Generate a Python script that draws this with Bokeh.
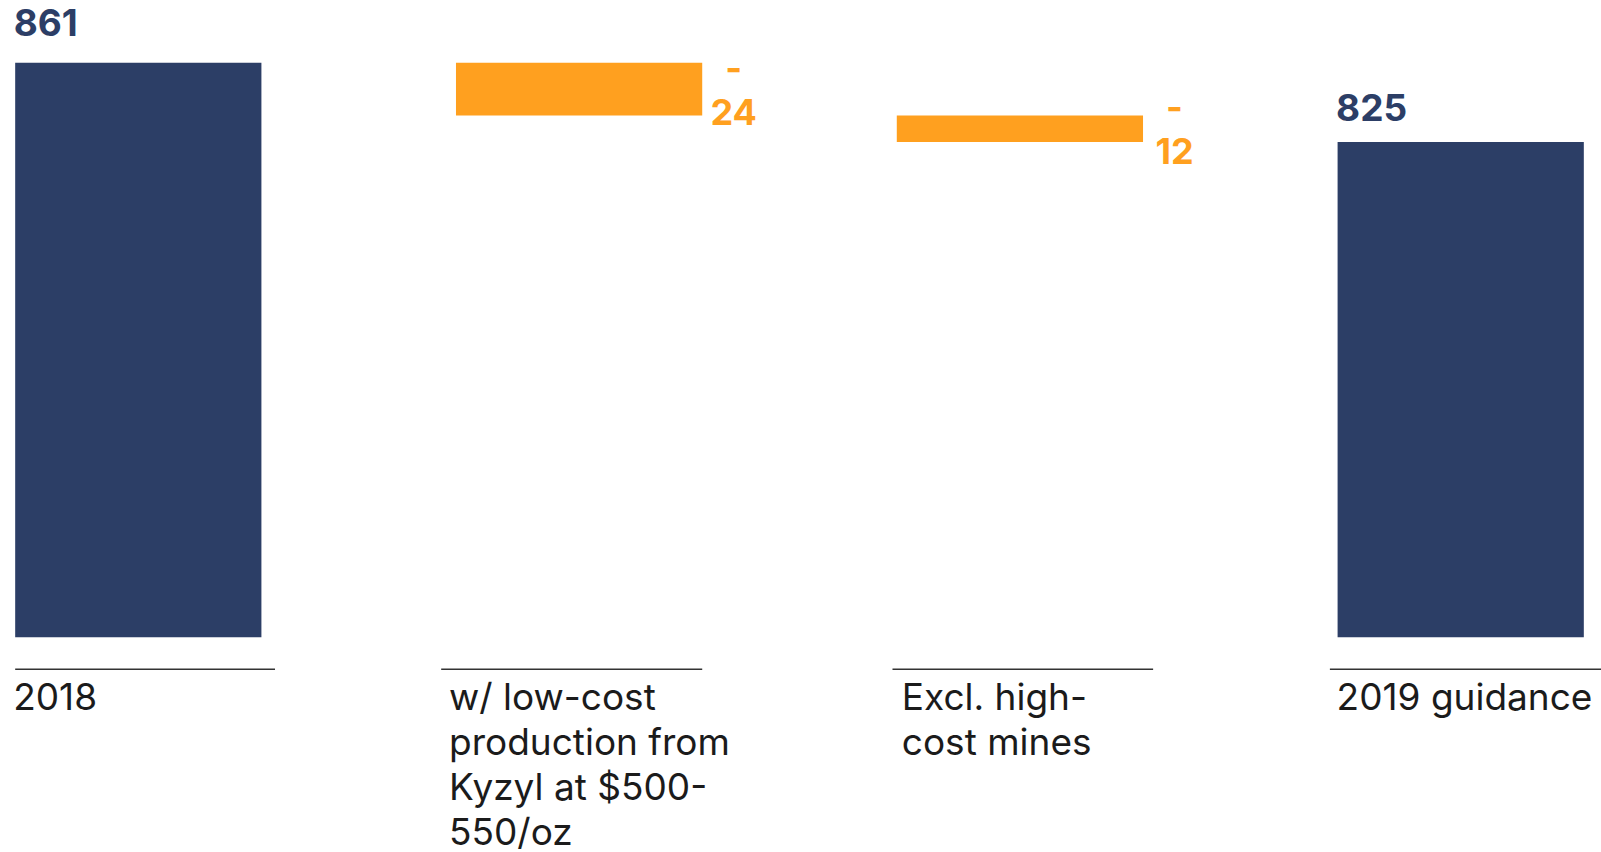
from bokeh.plotting import figure
from bokeh.models import Range1d, ColumnDataSource
from bokeh.core.properties import value
from bokeh.embed import file_html
from bokeh.resources import INLINE

# ---- data ----
categories = [
    "2018",
    "w/ low-cost\nproduction from\nKyzyl at $500-\n550/oz",
    "Excl. high-\ncost mines",
    "2019 guidance",
]
values = [861, -24, -12, 825]
kinds = ["total", "delta", "delta", "total"]

# ---- style / layout ----
Y_BASE = 600
NAVY = "#2C3E66"
ORANGE = "#FFA01F"
TEXT = "#1b1b1b"
FONT = "Inter"
BASE_FIX = 14      # empirical shift of the alphabetic baseline
LINE_PX = 45       # category label line spacing
# per-category pixel paddings of the separator line (left, right) and label nudge
SEP_PAD = [(0, 13.6), (-14.8, 0), (-4.3, 10.1), (-7.7, 20)]
LABEL_NUDGE = [-2, -7, 5, -1]
TOTAL_GAP = [26.5, 20.5]   # pixel gap between total bar top and its label

W, H = 1601, 852
x_start, x_end = -0.3126, 3.3194
y_start, y_end = 502.18, 889.31
px_x = W / (x_end - x_start)
px_y = H / (y_end - y_start)
bar_w = 0.5586

xs = list(range(len(categories)))
bottoms, tops = [], []
running = 0
for v, k in zip(values, kinds):
    if k == "total":
        bottoms.append(Y_BASE)
        tops.append(v)
        running = v
    else:
        new = running + v
        bottoms.append(min(running, new))
        tops.append(max(running, new))
        running = new
colors = [NAVY if k == "total" else ORANGE for k in kinds]

p = figure(
    width=W, height=H,
    x_range=Range1d(x_start, x_end), y_range=Range1d(y_start, y_end),
    output_backend="svg", toolbar_location=None,
    x_axis_location=None, y_axis_location=None,
    min_border=0, outline_line_color=None,
    background_fill_color="white", border_fill_color="white",
)
p.grid.visible = False

bars = ColumnDataSource(dict(x=xs, bottom=bottoms, top=tops, color=colors))
p.vbar(x="x", bottom="bottom", top="top", width=bar_w, fill_color="color",
       line_color=None, source=bars)

# separator lines under each category
sep_y = Y_BASE - 32 / px_y
p.segment(
    x0=[x - bar_w / 2 + pad[0] / px_x for x, pad in zip(xs, SEP_PAD)],
    x1=[x + bar_w / 2 + pad[1] / px_x for x, pad in zip(xs, SEP_PAD)],
    y0=[sep_y] * len(xs), y1=[sep_y] * len(xs),
    line_color="#333333", line_width=1.6,
)

# category labels (one text per line)
lx, ly, lt, lo, lxo = [], [], [], [], []
for x, cat, nudge in zip(xs, categories, LABEL_NUDGE):
    for k, line in enumerate(cat.split("\n")):
        lx.append(x - bar_w / 2)
        ly.append(Y_BASE)
        lt.append(line)
        lo.append(73.3 - BASE_FIX + k * LINE_PX)
        lxo.append(nudge)
p.text(
    x=lx, y=ly, text=lt, x_offset=lxo, y_offset=lo,
    text_align="left", text_baseline="alphabetic",
    text_font=value(FONT), text_font_size="37px", text_color=TEXT,
)

# total labels
tot_idx = [i for i, k in enumerate(kinds) if k == "total"]
p.text(
    x=[xs[i] - bar_w / 2 for i in tot_idx], y=[tops[i] for i in tot_idx],
    text=[str(values[i]) for i in tot_idx],
    x_offset=-1.5, y_offset=[-g - BASE_FIX for g in TOTAL_GAP],
    text_align="left", text_baseline="alphabetic",
    text_font=value(FONT), text_font_size="37px", text_font_style="bold",
    text_color=NAVY,
)

# delta labels: sign on one line, magnitude below
d_idx = [i for i, k in enumerate(kinds) if k == "delta"]
dx, dy, dt, do = [], [], [], []
for i in d_idx:
    mid = (bottoms[i] + tops[i]) / 2
    for line, off in (("-", -7.5), (str(abs(values[i])), 36.5)):
        dx.append(xs[i] + bar_w / 2)
        dy.append(mid)
        dt.append(line)
        do.append(off - BASE_FIX)
p.text(
    x=dx, y=dy, text=dt, x_offset=31.5, y_offset=do,
    text_align="center", text_baseline="alphabetic",
    text_font=value(FONT), text_font_size="36px", text_font_style="bold",
    text_color=ORANGE,
)

open("out.html", "w").write(file_html(p, INLINE))
